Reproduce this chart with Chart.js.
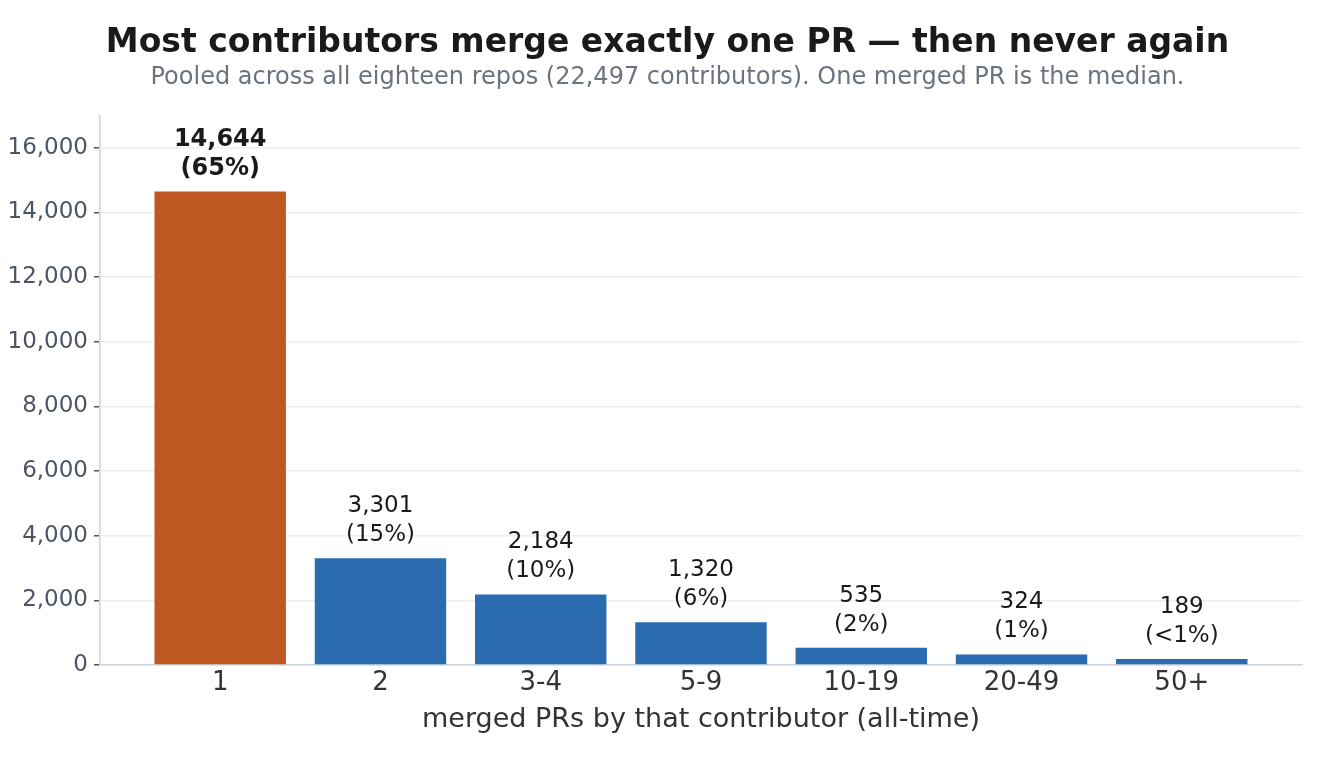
<!DOCTYPE html>
<html>
<head>
<meta charset="utf-8">
<script src="https://cdn.jsdelivr.net/npm/chart.js@4/dist/chart.umd.min.js"></script>
<style>
  html, body { margin: 0; padding: 0; background: #ffffff; }
  #wrap { width: 1335px; height: 765px; position: relative; }
</style>
</head>
<body>
<div id="wrap"><canvas id="c"></canvas></div>
<script>
const categories = ['1', '2', '3-4', '5-9', '10-19', '20-49', '50+'];
const contributors = [14644, 3301, 2184, 1320, 535, 324, 189];
const shareLabels = ['65%', '15%', '10%', '6%', '2%', '1%', '<1%'];
const highlightIndex = 0;
const yTicks = [0, 2000, 4000, 6000, 8000, 10000, 12000, 14000, 16000];

const FONT = "'DejaVu Sans', 'Liberation Sans', sans-serif";
const ORANGE = '#bf5722';
const BLUE = '#2b6cb0';

const points = contributors.map((v, i) => ({ x: i, y: v }));
const fmt = n => n.toLocaleString('en-US');

const labelPlugin = {
  id: 'barLabels',
  afterDatasetsDraw(chart) {
    const ctx = chart.ctx;
    const meta = chart.getDatasetMeta(0);
    ctx.save();
    ctx.textAlign = 'center';
    ctx.textBaseline = 'middle';
    ctx.fillStyle = '#1a1a1a';
    meta.data.forEach((bar, i) => {
      const bold = i === highlightIndex;
      ctx.font = (bold ? 'bold 24px ' : '23px ') + FONT;
      ctx.fillText(fmt(contributors[i]), bar.x, bar.y - 52);
      ctx.fillText('(' + shareLabels[i] + ')', bar.x, bar.y - 23);
    });
    ctx.restore();
  }
};

new Chart(document.getElementById('c'), {
  type: 'bar',
  data: {
    datasets: [{
      data: points,
      backgroundColor: contributors.map((_, i) => i === highlightIndex ? ORANGE : BLUE),
      borderWidth: 0,
      barPercentage: 0.82,
      categoryPercentage: 1.0
    }]
  },
  options: {
    responsive: true,
    maintainAspectRatio: false,
    animation: false,
    layout: { padding: { left: 0, right: 0, top: 0, bottom: 0 } },
    plugins: {
      legend: { display: false },
      tooltip: { enabled: false },
      title: {
        display: true,
        text: 'Most contributors merge exactly one PR — then never again',
        color: '#1a1a1a',
        font: { family: FONT, size: 33, weight: 'bold' },
        padding: { top: 24, bottom: 0 }
      },
      subtitle: {
        display: true,
        text: 'Pooled across all eighteen repos (22,497 contributors). One merged PR is the median.',
        color: '#6b7280',
        font: { family: FONT, size: 24 },
        padding: { top: 0, bottom: 23 }
      }
    },
    scales: {
      x: {
        type: 'linear',
        offset: false,
        min: -0.75,
        max: 6.75,
        afterBuildTicks(scale) {
          scale.ticks = categories.map((_, i) => ({ value: i }));
        },
        afterFit(scale) { scale.height = 100; },
        grid: { display: false, drawTicks: false },
        border: { display: true, color: '#cbd5e1', width: 1.5 },
        ticks: {
          color: '#333333',
          font: { family: FONT, size: 26 },
          padding: 3,
          autoSkip: false,
          maxRotation: 0,
          callback: v => categories[v] !== undefined ? categories[v] : ''
        },
        title: {
          display: true,
          text: 'merged PRs by that contributor (all-time)',
          color: '#333333',
          font: { family: FONT, size: 27 },
          padding: { top: 4, bottom: 29 }
        }
      },
      y: {
        min: 0,
        max: 17000,
        afterBuildTicks(scale) {
          scale.ticks = yTicks.map(v => ({ value: v }));
        },
        afterFit(scale) { scale.width = 100; },
        grid: {
          color: '#eceef2',
          lineWidth: 1.5,
          drawTicks: true,
          tickLength: 6,
          tickColor: '#4b5563',
          tickWidth: 1.5
        },
        border: { display: true, color: '#cbd5e1', width: 1.5 },
        ticks: {
          color: '#4b5563',
          font: { family: FONT, size: 23 },
          padding: 6,
          callback: v => fmt(v)
        }
      },
      yRightSpacer: {
        type: 'linear',
        position: 'right',
        display: true,
        min: 0,
        max: 17000,
        afterFit(scale) { scale.width = 33; },
        grid: { display: false, drawTicks: false },
        border: { display: false },
        ticks: { display: false }
      }
    }
  },
  plugins: [labelPlugin]
});
</script>
</body>
</html>
